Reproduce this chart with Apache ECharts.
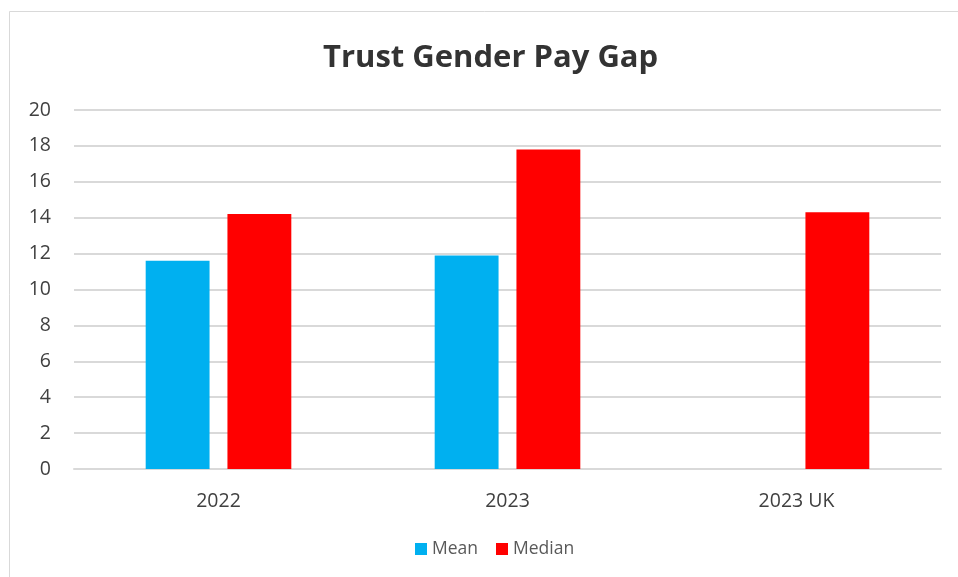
<!DOCTYPE html>
<html><head><meta charset="utf-8">
<script src="https://cdn.jsdelivr.net/npm/echarts@6/dist/echarts.min.js"></script>
<style>html,body{margin:0;padding:0;background:#fff}#c{width:958px;height:577px}</style>
</head><body><div id="c"></div>
<script>
const categories = ['2022', '2023', '2023 UK'];
const meanValues = [11.6, 11.9, null];
const medianValues = [14.2, 17.8, 14.3];
const yTicks = {min: 0, max: 20, interval: 2};

const chart = echarts.init(document.getElementById('c'));
const font = '"Open Sans", "Liberation Sans", sans-serif';
chart.setOption({
  animation: false,
  backgroundColor: '#fff',
  graphic: [{type: 'rect', shape: {x: 9.5, y: 11.5, width: 960, height: 580}, style: {fill: 'none', stroke: '#d9d9d9', lineWidth: 1}, silent: true}],
  title: {text: 'Trust Gender Pay Gap', left: 318, top: 38,
    textStyle: {fontFamily: font, fontSize: 31, fontWeight: 'bold', color: '#333'}},
  legend: {bottom: 14, left: 410, itemWidth: 12, itemHeight: 12, itemGap: 18, icon: 'rect',
    textStyle: {fontFamily: font, fontSize: 17.5, color: '#595959'}},
  grid: {left: 74, right: 17, top: 110, bottom: 108, containLabel: false},
  xAxis: {type: 'category', data: categories,
    axisLine: {lineStyle: {color: '#d9d9d9', width: 2}}, axisTick: {show: false},
    axisLabel: {fontFamily: font, fontSize: 19.5, color: '#404040', margin: 22}},
  yAxis: {type: 'value', min: yTicks.min, max: yTicks.max, interval: yTicks.interval,
    axisLine: {show: false}, axisTick: {show: false},
    splitLine: {lineStyle: {color: '#d9d9d9', width: 2}},
    axisLabel: {fontFamily: font, fontSize: 19.5, color: '#404040', margin: 23}},
  series: [
    {name: 'Mean', type: 'bar', data: meanValues, barWidth: '22.1%', barGap: '28%', itemStyle: {color: '#00b0f0'}},
    {name: 'Median', type: 'bar', data: medianValues, barWidth: '22.1%', itemStyle: {color: '#ff0000'}}
  ]
});
</script></body></html>
